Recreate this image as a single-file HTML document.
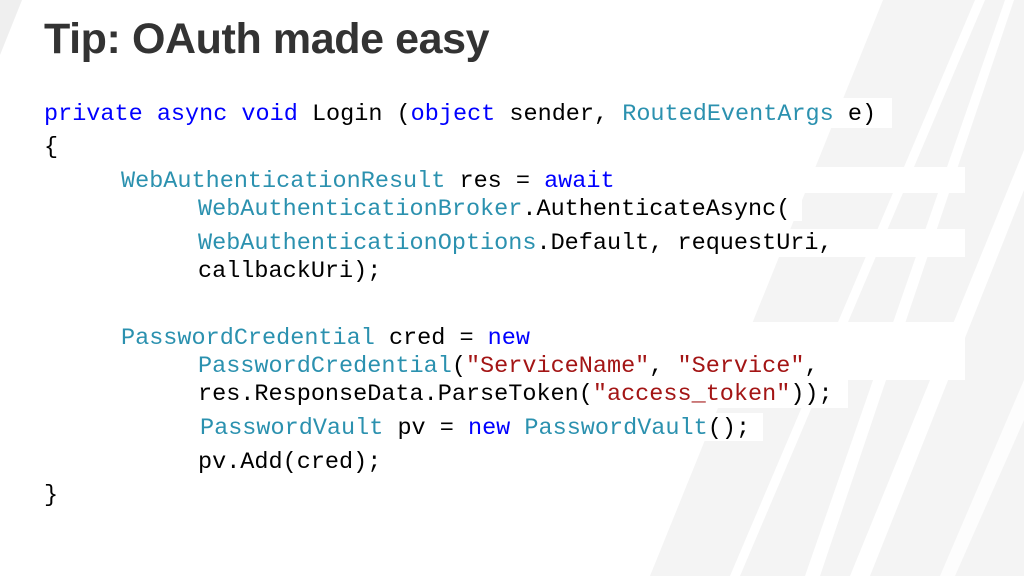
<!DOCTYPE html>
<html><head><meta charset="utf-8"><style>
html,body{margin:0;padding:0}
body{width:1024px;height:576px;position:relative;overflow:hidden;background:#fff;font-family:"Liberation Mono",monospace}
.t{position:absolute;left:44px;top:15px;font-family:"Liberation Sans",sans-serif;font-weight:bold;font-size:43px;color:#333;letter-spacing:-0.4px}
.l{position:absolute;font-size:23.5px;line-height:28px;white-space:pre;color:#000}
.k{color:#0000ff}.c{color:#2b91af}.s{color:#a31515}
.hl{position:absolute;background:#fff}
</style></head><body>
<svg width="1024" height="576" style="position:absolute;left:0;top:0">
<polygon points="0,0 22,0 0,55" fill="#efefef"/>
<polygon points="883,0 1024,0 1024,576 650,576" fill="#f4f4f4"/>
<polygon points="975,0 985,0 740,576 730,576" fill="#fff"/>
<polygon points="1005,0 1014,0 820,576 805,576" fill="#fff"/>
<polygon points="1024,150 1024,190 870,576 850,576" fill="#fff"/>
<polygon points="1024,380 1024,420 955,576 940,576" fill="#fff" opacity="0.8"/>
</svg>
<div class="t">Tip: OAuth made easy</div>
<div class="hl" style="left:40px;top:98px;width:852px;height:30px"></div>
<div class="hl" style="left:115px;top:167px;width:850px;height:26px"></div>
<div class="hl" style="left:190px;top:195px;width:612px;height:26px"></div>
<div class="hl" style="left:190px;top:229px;width:775px;height:28px"></div>
<div class="hl" style="left:115px;top:322px;width:850px;height:58px"></div>
<div class="hl" style="left:190px;top:380px;width:658px;height:28px"></div>
<div class="hl" style="left:190px;top:413px;width:573px;height:28px"></div>
<div class="l" style="left:44px;top:101px"><span class="k">private async void</span> Login (<span class="k">object</span> sender, <span class="c">RoutedEventArgs</span> e)</div>
<div class="l" style="left:44px;top:134px">{</div>
<div class="l" style="left:121px;top:168px"><span class="c">WebAuthenticationResult</span> res = <span class="k">await</span></div>
<div class="l" style="left:198px;top:196px"><span class="c">WebAuthenticationBroker</span>.AuthenticateAsync(</div>
<div class="l" style="left:198px;top:230px"><span class="c">WebAuthenticationOptions</span>.Default, requestUri,</div>
<div class="l" style="left:198px;top:258px">callbackUri);</div>
<div class="l" style="left:121px;top:325px"><span class="c">PasswordCredential</span> cred = <span class="k">new</span></div>
<div class="l" style="left:198px;top:353px"><span class="c">PasswordCredential</span>(<span class="s">"ServiceName"</span>, <span class="s">"Service"</span>,</div>
<div class="l" style="left:198px;top:381px">res.ResponseData.ParseToken(<span class="s">"access_token"</span>));</div>
<div class="l" style="left:200px;top:415px"><span class="c">PasswordVault</span> pv = <span class="k">new</span> <span class="c">PasswordVault</span>();</div>
<div class="l" style="left:198px;top:449px">pv.Add(cred);</div>
<div class="l" style="left:44px;top:482px">}</div>
</body></html>
